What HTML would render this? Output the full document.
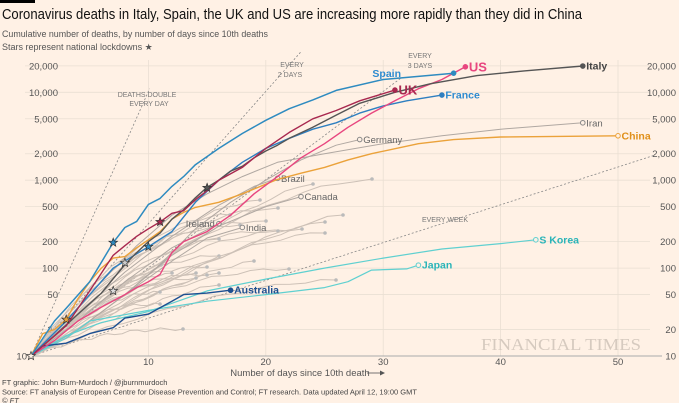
<!DOCTYPE html>
<html><head><meta charset="utf-8"><style>
body{margin:0;background:#fff1e5;width:679px;height:403px;overflow:hidden;font-family:"Liberation Sans",sans-serif}
svg{display:block}
</style></head><body>
<svg id="s" width="679" height="403" viewBox="0 0 679 403" xmlns="http://www.w3.org/2000/svg" font-family="Liberation Sans, sans-serif">
<rect width="679" height="403" fill="#fff1e5"/>
<rect x="0" y="0" width="35" height="3" fill="#000"/>
<text x="2" y="19" font-size="14.5" fill="#111" textLength="580" lengthAdjust="spacingAndGlyphs">Coronavirus deaths in Italy, Spain, the UK and US are increasing more rapidly than they did in China</text>
<text x="2" y="37" font-size="9" fill="#555" textLength="266" lengthAdjust="spacingAndGlyphs">Cumulative number of deaths, by number of days since 10th deaths</text>
<text x="2" y="50" font-size="9" fill="#555">Stars represent national lockdowns ★</text>
<g id="grid"></g>
<text x="641" y="350" font-size="17" fill="#d6cabf" text-anchor="end" font-family="Liberation Serif, serif" textLength="160" lengthAdjust="spacingAndGlyphs">FINANCIAL TIMES</text>
<g id="ref"></g>
<g id="gray"></g>
<g id="col"></g>
<text x="300" y="376" font-size="9.5" fill="#555" text-anchor="middle">Number of days since 10th death</text>
<line x1="367" y1="373" x2="383" y2="373" stroke="#555" stroke-width="0.8"/><path d="M380,370.5 L385,373 L380,375.5Z" fill="#555"/>
<text x="2" y="385" font-size="7.5" fill="#444">FT graphic: John Burn-Murdoch / @jburnmurdoch</text>
<text x="2" y="394.5" font-size="7.5" fill="#444">Source: FT analysis of European Centre for Disease Prevention and Control; FT research. Data updated April 12, 19:00 GMT</text>
<text x="2" y="403" font-size="7.5" fill="#444" font-style="italic">© FT</text>
</svg>
<script>
const NS="http://www.w3.org/2000/svg";
const X=d=>31+11.74*d, Y=v=>356-87.9*Math.log10(v/10);
function el(p,t,a,txt){const e=document.createElementNS(NS,t);for(const k in a)e.setAttribute(k,a[k]);if(txt!==undefined)e.textContent=txt;document.getElementById(p).appendChild(e);return e;}
[20,50,100,200,500,1000,2000,5000,10000,20000].forEach(v=>{const y=Y(v);el("grid","line",{x1:25,x2:650,y1:y,y2:y,stroke:"#eadfd3","stroke-width":0.8});
const t=v.toLocaleString("en-US");el("grid","text",{x:58,y:y+3.5,"font-size":9.5,fill:"#555","text-anchor":"end"},t);el("grid","text",{x:676,y:y+3.5,"font-size":9.5,fill:"#555","text-anchor":"end"},t);});
[10,20,30,40,50].forEach(d=>{el("grid","line",{x1:X(d),x2:X(d),y1:60,y2:356,stroke:"#eadfd3","stroke-width":0.8});el("grid","text",{x:X(d),y:365,"font-size":9.5,fill:"#555","text-anchor":"middle"},d);});
el("grid","line",{x1:28,x2:662,y1:356,y2:356,stroke:"#aaa","stroke-width":1});
el("grid","text",{x:27,y:359.5,"font-size":9.5,fill:"#555","text-anchor":"end"},"10");
el("grid","text",{x:676,y:359.5,"font-size":9.5,fill:"#555","text-anchor":"end"},"10");
[[1,10.1],[2,23],[3,31.5],[7,53]].forEach(([k,dmax])=>{el("ref","line",{x1:X(0),y1:Y(10),x2:X(dmax),y2:Y(10*Math.pow(2,dmax/k)),stroke:"#888","stroke-width":0.8,"stroke-dasharray":"2,2"});});
const lab=(x,y,t)=>el("ref","text",{x:x,y:y,"font-size":7,fill:"#777","text-anchor":"middle"},t);
lab(147,97,"DEATHS DOUBLE");lab(149,106,"EVERY DAY");lab(292,67,"EVERY");lab(290,77,"2 DAYS");lab(420,58,"EVERY");lab(420,68,"3 DAYS");lab(445,222,"EVERY WEEK");
const ends=[[313,184],[372,179],[278,208],[266,221],[325,222],[325,233],[302,229],[278,231],[254,261],[219,239],[219,256],[207,267],[219,273],[196,273],[196,278],[207,275],[219,285],[336,280],[289,269],[183,329],[161,265],[172,273],[160,292],[160,304],[343,215],[260,200],[230,215],[240,225]];
function gpath(ex,ey,k){let d="";for(let i=0;i<=20;i++){const t=i/20;const x=31+(ex-31)*t;const f=1-Math.pow(1-t,k);const wob=Math.sin(i*1.7+ex)*1.5;const y=356+(ey-356)*f+(i>0&&i<20?wob:0);d+=(i?"L":"M")+x.toFixed(1)+","+y.toFixed(1);}return d;}
ends.forEach(([x,y],i)=>{el("gray","path",{d:gpath(x,y,1.3+(i%4)*0.3),fill:"none",stroke:"#cdc1b7","stroke-width":1});el("gray","circle",{cx:x,cy:y,r:1.8,fill:"#bbb"});});
const S={
Iran:{c:"#b0a8a2",w:1,d:[[0,10],[3,25],[6,70],[9,180],[12,400],[15,700],[18,1100],[21,1600],[25,2000],[30,2600],[35,3200],[40,3800],[47,4500]],lab:"Iran",open:1,lc:"#666",fw:"normal"},
Germany:{c:"#b0a8a2",w:1,d:[[0,10],[4,20],[8,50],[11,110],[14,280],[17,560],[20,1000],[23,1700],[26,2500],[28,2900]],lab:"Germany",open:1,lc:"#666",fw:"normal"},
Brazil:{c:"#b0a8a2",w:1,d:[[0,10],[4,30],[8,90],[12,230],[16,520],[19,850],[21,1050]],lab:"Brazil",open:1,lc:"#666",fw:"normal"},
Canada:{c:"#b0a8a2",w:1,d:[[0,10],[4,20],[8,50],[12,140],[16,300],[20,500],[23,650]],lab:"Canada",open:1,lc:"#666",fw:"normal"},
India:{c:"#b0a8a2",w:1,d:[[0,10],[4,20],[8,50],[12,120],[15,220],[18,290]],lab:"India",open:1,lc:"#666",fw:"normal"},
Ireland:{c:"#b0a8a2",w:1,d:[[0,10],[4,25],[8,70],[12,170],[16,320]],lab:"Ireland",open:1,lc:"#666",fw:"normal",left:1},
SK:{c:"#5fd0d0",w:1.2,d:[[0,10],[3,17],[6,24],[10,32],[15,55],[20,75],[25,100],[30,130],[35,165],[40,190],[43,210]],lab:"S Korea",open:1,lc:"#2ab4b8",fw:"bold"},
Japan:{c:"#5fd0d0",w:1.2,d:[[0,10],[3,16],[5,25],[10,33],[15,42],[20,50],[25,60],[27,70],[29,95],[32,98],[33,108]],lab:"Japan",open:1,lc:"#2ab4b8",fw:"bold"},
Australia:{c:"#1d4f91",w:1.4,d:[[0,10],[1,13],[3,14],[5,18],[7,21],[8,27],[10,30],[12,42],[13,50],[15,52],[17,56]],lab:"Australia",lc:"#1d4f91",fw:"bold"},
China:{c:"#eba23a",w:1.4,d:[[0,10],[1,18],[2,20],[3,26],[4,45],[5,70],[6,100],[7,130],[8,135],[9,170],[10,210],[11,260],[12,360],[13,430],[14,490],[16,560],[18,700],[20,900],[21,1020],[23,1200],[25,1400],[27,1700],[29,2000],[33,2600],[36,2900],[40,3100],[50,3200]],lab:"China",open:1,lc:"#e0901a",fw:"bold"},
France:{c:"#2e7fc0",w:1.4,d:[[0,10],[3,25],[5,50],[7,100],[10,175],[12,260],[14,560],[16,1000],[18,1600],[20,2300],[22,3000],[24,3800],[26,4500],[28,5800],[30,7000],[32,8000],[35,9300]],lab:"France",lc:"#2e8bd0",fw:"bold"},
US:{c:"#e8467f",w:1.4,d:[[0,10],[2,15],[4,25],[6,36],[8,50],[9,60],[10,70],[11,85],[12,150],[13,200],[15,260],[17,400],[19,700],[21,1100],[23,1800],[25,2600],[27,4000],[29,5800],[31,8000],[33,11000],[35,14000],[37,19500]],lab:"US",lc:"#e8467f",fw:"bold",big:1},
Italy:{c:"#555",w:1.4,d:[[0,10],[2,17],[4,30],[6,52],[8,110],[9,150],[10,200],[11,250],[12,360],[13,460],[14,630],[15,830],[16,1000],[17,1270],[18,1440],[19,1800],[20,2150],[21,2500],[22,3000],[24,4000],[26,5500],[28,7500],[31,10000],[34,12500],[38,15500],[42,17500],[47,19900]],lab:"Italy",lc:"#444",fw:"bold"},
UK:{c:"#a8284f",w:1.4,d:[[0,10],[3,22],[5,55],[7,140],[8,180],[9,230],[10,280],[11,335],[12,420],[13,450],[14,600],[15,760],[16,1000],[18,1400],[20,2300],[22,3500],[24,5000],[26,6200],[28,8000],[31,10600]],lab:"UK",lc:"#a8284f",fw:"bold",big:1},
Spain:{c:"#2e8bc0",w:1.5,d:[[0,10],[2,25],[3,35],[5,70],[7,195],[8,290],[9,340],[10,530],[11,620],[12,850],[13,1100],[14,1500],[16,2300],[18,3400],[20,4800],[22,6500],[24,8200],[26,10500],[30,14000],[36,16500]],lab:"Spain",lc:"#2e8bd0",fw:"bold",left:1}
};
for(const k in S){const s=S[k];const p=s.d.map((q,i)=>(i?"L":"M")+X(q[0]).toFixed(1)+","+Y(q[1]).toFixed(1)).join("");
const g=s.c==="#b0a8a2"?"gray":"col";
el(g,"path",{d:p,fill:"none",stroke:s.c,"stroke-width":s.w,"stroke-linejoin":"round"});
const e=s.d[s.d.length-1];const ex=X(e[0]),ey=Y(e[1]);
el(g,"circle",{cx:ex,cy:ey,r:2.3,fill:s.open?"#fff1e5":s.c,stroke:s.c==="#b0a8a2"?"#888":s.c,"stroke-width":1});
let fs=s.big?13:(s.fw==="bold"?10.5:9.5);
if(k==="Spain")el(g,"text",{x:401,y:77,"font-size":fs,fill:s.lc,"font-weight":"bold","text-anchor":"end"},"Spain");
else if(s.left)el(g,"text",{x:ex-4,y:ey+3.5,"font-size":fs,fill:s.lc,"font-weight":s.fw,"text-anchor":"end"},s.lab);
else el(g,"text",{x:ex+3.5,y:ey+(s.big?4.5:3.5),"font-size":fs,fill:s.lc,"font-weight":s.fw},s.lab);}
function star(cx,cy,fill){let d="";for(let i=0;i<10;i++){const r=i%2?1.9:4.5;const a=-Math.PI/2+i*Math.PI/5;d+=(i?"L":"M")+(cx+r*Math.cos(a)).toFixed(1)+","+(cy+r*Math.sin(a)).toFixed(1);}el("col","path",{d:d+"Z",fill:fill,stroke:"#333","stroke-width":0.7});}
star(X(0),Y(10),"#fff1e5");star(X(3),Y(26),"#eba23a");star(X(7),Y(55),"#ddd");star(X(8),Y(115),"#ccc");star(X(7),Y(195),"#2e8bc0");star(X(10),Y(175),"#2e8bc0");star(X(11),Y(335),"#a8284f");star(X(15),Y(820),"#555");
</script>
</body></html>
